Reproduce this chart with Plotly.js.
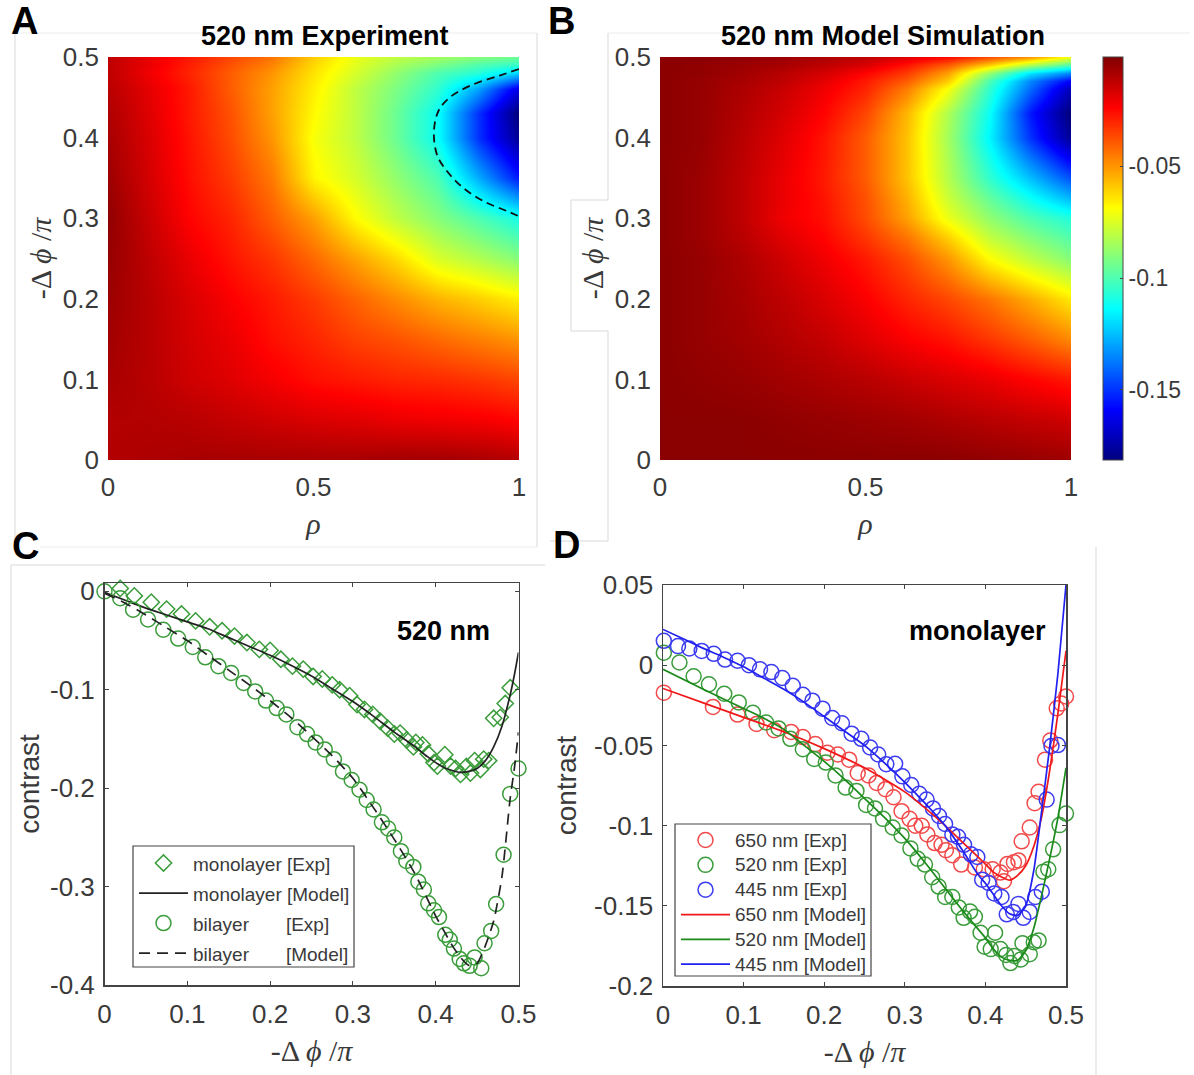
<!DOCTYPE html>
<html>
<head>
<meta charset="utf-8">
<script src="https://cdn.plot.ly/plotly-3.0.1.min.js"></script>
<style>html,body{margin:0;padding:0;background:#fff}#chart{width:1194px;height:1075px}</style>
</head>
<body>
<div id="chart"></div>
<script>
// ---------- Heatmap grids ----------
const rhoValues = [0, 0.1, 0.2, 0.3, 0.4, 0.5, 0.6, 0.7, 0.8, 0.9, 1];
const expPhiValues = [0, 0.05, 0.1, 0.15, 0.2, 0.25, 0.3, 0.35, 0.4, 0.43, 0.46, 0.48, 0.49, 0.5];
const simPhiValues = [0, 0.05, 0.1, 0.15, 0.2, 0.25, 0.275, 0.3, 0.325, 0.35, 0.4, 0.43, 0.46, 0.47, 0.48, 0.49, 0.5];
const experimentContrast = [
  [-.010,-.009,-.008,-.008,-.008,-.008,-.008,-.007,-.007,-.008,-.010],
  [-.010,-.010,-.011,-.013,-.015,-.017,-.018,-.020,-.021,-.022,-.024],
  [-.008,-.011,-.015,-.018,-.022,-.026,-.028,-.030,-.031,-.033,-.036],
  [-.007,-.011,-.016,-.020,-.026,-.030,-.035,-.038,-.042,-.046,-.050],
  [-.006,-.011,-.017,-.023,-.028,-.034,-.041,-.048,-.055,-.060,-.066],
  [-.005,-.012,-.020,-.027,-.033,-.042,-.052,-.062,-.075,-.082,-.090],
  [-.004,-.014,-.024,-.030,-.040,-.052,-.068,-.080,-.090,-.100,-.110],
  [-.006,-.016,-.026,-.034,-.045,-.067,-.076,-.088,-.100,-.128,-.155],
  [-.008,-.017,-.027,-.037,-.050,-.070,-.080,-.095,-.112,-.150,-.178],
  [-.009,-.018,-.028,-.038,-.052,-.068,-.080,-.095,-.112,-.150,-.183],
  [-.011,-.019,-.028,-.040,-.052,-.066,-.080,-.092,-.105,-.130,-.165],
  [-.012,-.021,-.030,-.040,-.050,-.064,-.076,-.088,-.100,-.107,-.122],
  [-.012,-.020,-.029,-.038,-.047,-.062,-.074,-.084,-.092,-.100,-.105],
  [-.012,-.020,-.028,-.036,-.044,-.060,-.072,-.080,-.085,-.090,-.095]
];
const simulationContrast = [
  [-.003,-.003,-.003,-.003,-.003,-.003,-.003,-.003,-.004,-.005,-.006],
  [-.003,-.003,-.003,-.004,-.005,-.006,-.007,-.009,-.011,-.013,-.015],
  [-.003,-.004,-.005,-.007,-.009,-.011,-.014,-.017,-.020,-.024,-.028],
  [-.003,-.005,-.007,-.010,-.013,-.018,-.023,-.027,-.033,-.040,-.048],
  [-.003,-.005,-.008,-.012,-.017,-.023,-.030,-.036,-.044,-.054,-.065],
  [-.003,-.005,-.009,-.015,-.021,-.028,-.037,-.050,-.068,-.080,-.090],
  [-.003,-.006,-.011,-.018,-.024,-.033,-.044,-.060,-.079,-.090,-.099],
  [-.003,-.006,-.012,-.021,-.026,-.037,-.052,-.072,-.088,-.100,-.108],
  [-.003,-.006,-.012,-.020,-.027,-.038,-.055,-.078,-.096,-.112,-.127],
  [-.003,-.006,-.012,-.020,-.028,-.040,-.058,-.082,-.105,-.125,-.145],
  [-.003,-.005,-.011,-.018,-.027,-.040,-.058,-.085,-.115,-.150,-.178],
  [-.003,-.005,-.010,-.016,-.024,-.036,-.056,-.083,-.112,-.155,-.183],
  [-.003,-.005,-.009,-.014,-.021,-.030,-.046,-.070,-.105,-.140,-.172],
  [-.003,-.005,-.008,-.012,-.019,-.028,-.040,-.060,-.100,-.135,-.160],
  [-.003,-.004,-.007,-.011,-.016,-.024,-.034,-.052,-.087,-.118,-.135],
  [-.003,-.004,-.006,-.008,-.012,-.017,-.027,-.040,-.060,-.083,-.100],
  [-.003,-.003,-.004,-.006,-.009,-.012,-.018,-.025,-.037,-.050,-.072]
];
const contourRho = [1, .953, .884, .832, .804, .793, .801, .827, .866, .918, .97, .997];
const contourPhi = [.485, .477, .465, .45, .433, .407, .378, .357, .337, .32, .309, .303];

// ---------- Panel C ----------
const monoExpX = [0,.019,.036,.0565,.075,.093,.11,.127,.142,.157,.172,.187,.2,.213,.227,.24,.252,.263,.275,.284,.296,.305,.314,.324,.333,.342,.35,.357,.365,.373,.376,.384,.391,.398,.402,.411,.418,.424,.43,.437,.442,.447,.454,.458,.464,.47,.478,.484,.49,.501];
const monoExpY = [.0095,.003,-.0046,-.011,-.018,-.023,-.03,-.036,-.04,-.0455,-.052,-.059,-.06,-.069,-.076,-.079,-.0865,-.089,-.095,-.1,-.106,-.115,-.12,-.125,-.132,-.139,-.145,-.144,-.151,-.158,-.1535,-.156,-.165,-.174,-.1775,-.166,-.1775,-.18,-.186,-.178,-.1846,-.172,-.181,-.1705,-.172,-.129,-.128,-.114,-.098,-.092];
const biExpX = [0,.019,.0345,.0526,.071,.089,.1066,.1217,.1376,.153,.168,.182,.195,.208,.2196,.233,.2446,.255,.266,.277,.288,.2985,.308,.3167,.325,.335,.3425,.35,.358,.3645,.373,.379,.3857,.391,.398,.404,.4116,.417,.422,.429,.434,.441,.447,.455,.459,.467,.473,.482,.49,.5];
const biExpY = [0,-.007,-.0187,-.0286,-.039,-.048,-.0565,-.067,-.076,-.083,-.093,-.1017,-.111,-.1186,-.125,-.138,-.145,-.1535,-.1606,-.1705,-.183,-.1917,-.2016,-.212,-.2217,-.2347,-.241,-.25,-.264,-.274,-.28,-.295,-.303,-.317,-.324,-.331,-.349,-.354,-.363,-.3735,-.378,-.3805,-.372,-.383,-.3576,-.345,-.3177,-.2676,-.2058,-.18];
const monoModelX = [0,.025,.05,.075,.1,.125,.15,.175,.2,.225,.25,.275,.3,.325,.35,.375,.39,.4,.41,.42,.43,.44,.45,.46,.47,.48,.49,.495,.5];
const monoModelY = [-.001,-.009,-.017,-.024,-.031,-.038,-.047,-.056,-.065,-.075,-.086,-.099,-.112,-.127,-.143,-.158,-.168,-.174,-.179,-.182,-.184,-.183,-.18,-.172,-.158,-.137,-.105,-.085,-.062];
const biModelX = [0,.025,.05,.075,.1,.125,.15,.175,.2,.225,.25,.275,.3,.325,.35,.375,.4,.41,.42,.43,.44,.45,.46,.47,.48,.49,.495,.5];
const biModelY = [-.002,-.012,-.024,-.037,-.05,-.065,-.08,-.095,-.111,-.128,-.147,-.167,-.19,-.22,-.252,-.287,-.33,-.345,-.36,-.372,-.38,-.378,-.36,-.335,-.29,-.21,-.18,-.143];

// ---------- Panel D ----------
const redExpX = [.001,.062,.0925,.116,.138,.159,.1735,.189,.204,.217,.231,.2416,.255,.265,.276,.286,.296,.306,.313,.321,.328,.337,.3456,.351,.359,.37,.387,.398,.409,.4186,.423,.4274,.4354,.441,.445,.455,.461,.466,.474,.4805,.4885,.494,.5];
const redExpY = [-.0171,-.026,-.0308,-.0366,-.0405,-.0416,-.0448,-.0492,-.0546,-.0557,-.0589,-.0672,-.0687,-.0734,-.0773,-.0823,-.091,-.0958,-.1001,-.1001,-.1055,-.1109,-.112,-.1153,-.1185,-.1243,-.1261,-.1272,-.1272,-.1293,-.1347,-.1239,-.1228,-.1217,-.1098,-.1012,-.086,-.0789,-.0589,-.047,-.0269,-.0238,-.0195];
const greenExpX = [.001,.0204,.038,.057,.076,.094,.1115,.128,.1434,.158,.1735,.1876,.202,.214,.2265,.24,.252,.263,.273,.285,.296,.307,.316,.325,.334,.342,.35,.359,.367,.373,.381,.387,.394,.399,.4066,.412,.4186,.4257,.431,.436,.444,.446,.455,.46,.466,.472,.478,.484,.492,.5];
const greenExpY = [.0078,.0017,-.0069,-.0119,-.0178,-.0232,-.0297,-.0357,-.0394,-.0459,-.0524,-.0585,-.0607,-.0687,-.0763,-.0784,-.0871,-.0893,-.0958,-.1012,-.1062,-.1142,-.1207,-.1243,-.1322,-.138,-.1445,-.1445,-.151,-.1575,-.1536,-.1568,-.1668,-.1755,-.177,-.1668,-.177,-.1807,-.1857,-.1813,-.1835,-.1733,-.1802,-.1727,-.1716,-.1287,-.1272,-.1148,-.0997,-.0925];
const blueExpX = [.001,.0186,.0327,.048,.063,.077,.0925,.1066,.1204,.1345,.148,.161,.1735,.1854,.198,.21,.222,.234,.246,.257,.267,.277,.288,.297,.308,.318,.327,.335,.3425,.35,.359,.366,.3735,.382,.39,.396,.404,.411,.42,.4265,.4345,.441,.447,.455,.462,.47,.476,.482,.49,.501];
const blueExpY = [.0152,.0119,.0104,.0089,.0071,.0035,.0028,0,-.0026,-.0043,-.008,-.0128,-.0184,-.0221,-.0271,-.0329,-.0362,-.0427,-.0459,-.0513,-.0557,-.0617,-.0615,-.0693,-.0747,-.0802,-.0838,-.0893,-.094,-.099,-.1055,-.107,-.112,-.1179,-.1196,-.1337,-.1358,-.1423,-.1445,-.1553,-.1538,-.1488,-.1575,-.1538,-.1445,-.1412,-.0838,-.0503,-.0498,-.0524];
const redModelX = [0,.05,.1,.15,.2,.25,.3,.325,.35,.375,.4,.41,.42,.43,.44,.45,.46,.47,.48,.49,.5];
const redModelY = [-.0145,-.0235,-.0325,-.0415,-.052,-.064,-.079,-.089,-.1,-.112,-.124,-.129,-.132,-.134,-.131,-.125,-.113,-.094,-.065,-.03,.009];
const greenModelX = [0,.05,.1,.125,.15,.175,.2,.225,.25,.275,.3,.325,.35,.375,.4,.41,.42,.43,.44,.45,.46,.47,.48,.49,.5];
const greenModelY = [-.0026,-.015,-.027,-.033,-.04,-.05,-.06,-.071,-.083,-.095,-.108,-.123,-.139,-.155,-.17,-.177,-.182,-.184,-.184,-.178,-.164,-.143,-.12,-.095,-.064];
const blueModelX = [0,.025,.05,.075,.1,.125,.15,.175,.2,.225,.25,.275,.3,.325,.35,.375,.39,.4,.41,.42,.43,.44,.45,.46,.47,.48,.49,.5];
const blueModelY = [.0223,.0165,.0105,.005,-.001,-.008,-.015,-.023,-.032,-.041,-.05,-.061,-.073,-.086,-.1,-.118,-.13,-.136,-.143,-.15,-.155,-.156,-.15,-.128,-.09,-.05,-.005,.05];

// ---------- Tick labels ----------
const heatXTicks = [0, 0.5, 1];
const heatXText = ['0', '0.5', '1'];
const heatYTicks = [0, 0.1, 0.2, 0.3, 0.4, 0.5];
const heatYText = ['0', '0.1', '0.2', '0.3', '0.4', '0.5'];
const lineXTicks = [0, 0.1, 0.2, 0.3, 0.4, 0.5];
const lineXText = ['0', '0.1', '0.2', '0.3', '0.4', '0.5'];
const cYTicks = [0, -0.1, -0.2, -0.3, -0.4];
const cYText = ['0', '-0.1', '-0.2', '-0.3', '-0.4'];
const dYTicks = [0.05, 0, -0.05, -0.1, -0.15, -0.2];
const dYText = ['0.05', '0', '-0.05', '-0.1', '-0.15', '-0.2'];
const cbTicks = [-0.05, -0.1, -0.15];
const cbText = ['-0.05', '-0.1', '-0.15'];

// ---------- Helpers (pixel layout -> paper) ----------
const W = 1194, H = 1075;
const px = x => x / W;
const py = y => 1 - y / H;
const TXT = '#3a3a3a';
const SANS = 'Liberation Sans, Arial, sans-serif';
const SERIF = 'Liberation Serif, Times New Roman, serif';
const GREEN = '#3a9c3a', RED = '#f24a4a', BLUE = '#3c3cf0';
const jet = [[0,'rgb(0,0,128)'],[.125,'rgb(0,0,255)'],[.375,'rgb(0,255,255)'],[.625,'rgb(255,255,0)'],[.875,'rgb(255,0,0)'],[1,'rgb(128,0,0)']];
const ZMIN = -0.1815, ZMAX = -0.001;
const phiLabel = '-Δ\u2009<i>ϕ</i> /<i>π</i>';
const nb = '\u00a0';
const big = s => '<span style="font-size:19px">' + s + '</span>';

function heat(z, phi, xa, ya, extra) {
  return Object.assign({type:'heatmap', x:rhoValues, y:phi, z:z, xaxis:xa, yaxis:ya,
    colorscale:jet, zmin:ZMIN, zmax:ZMAX, zsmooth:'best', showscale:false, hoverinfo:'skip'}, extra||{});
}
function pts(x, y, symbol, color, name, xa, ya, leg, size) {
  return {type:'scatter', mode:'markers', x:x, y:y, xaxis:xa, yaxis:ya, name:name, legend:leg,
    cliponaxis:false, marker:{symbol:symbol, size:size, color:color, line:{color:color, width:1.5}}};
}
function ln(x, y, color, dash, name, xa, ya, leg) {
  return {type:'scatter', mode:'lines', x:x, y:y, xaxis:xa, yaxis:ya, name:name, legend:leg,
    cliponaxis:false, line:{color:color, width:1.7, dash:dash, shape:'spline', smoothing:0.6}};
}
const traces = [
  heat(experimentContrast, expPhiValues, 'x', 'y'),
  {type:'scatter', mode:'lines', x:contourRho, y:contourPhi, xaxis:'x', yaxis:'y', showlegend:false, cliponaxis:false,
    line:{color:'#111', width:1.8, dash:'8px,5px', shape:'spline'}, hoverinfo:'skip'},
  heat(simulationContrast, simPhiValues, 'x2', 'y2', {showscale:true, colorbar:{
    x:px(1103), xanchor:'left', y:py(460), yanchor:'bottom', thicknessmode:'pixels', thickness:20,
    lenmode:'pixels', len:403, xpad:0, ypad:0, outlinecolor:'#444', outlinewidth:1,
    tickmode:'array', tickvals:cbTicks, ticktext:cbText, ticks:'inside', ticklen:3, tickcolor:'#444',
    tickfont:{family:SANS, size:23, color:TXT}, ticklabelposition:'outside'}}),
  pts(monoExpX, monoExpY, 'diamond-open', GREEN, big('monolayer [Exp]'), 'x3', 'y3', 'legend', 12.5),
  ln(monoModelX, monoModelY, '#222', 'solid', big('monolayer [Model]'), 'x3', 'y3', 'legend'),
  pts(biExpX, biExpY, 'circle-open', GREEN, big('bilayer'+nb.repeat(7)+'[Exp]'), 'x3', 'y3', 'legend', 15),
  ln(biModelX, biModelY, '#222', '11px,7px', big('bilayer'+nb.repeat(7)+'[Model]'), 'x3', 'y3', 'legend'),
  pts(redExpX, redExpY, 'circle-open', RED, big('650 nm [Exp]'), 'x4', 'y4', 'legend2', 15),
  pts(greenExpX, greenExpY, 'circle-open', GREEN, big('520 nm [Exp]'), 'x4', 'y4', 'legend2', 15),
  pts(blueExpX, blueExpY, 'circle-open', BLUE, big('445 nm [Exp]'), 'x4', 'y4', 'legend2', 15),
  ln(redModelX, redModelY, '#f01818', 'solid', big('650 nm [Model]'), 'x4', 'y4', 'legend2'),
  ln(greenModelX, greenModelY, '#1a8a1a', 'solid', big('520 nm [Model]'), 'x4', 'y4', 'legend2'),
  ln(blueModelX, blueModelY, '#2020f0', 'solid', big('445 nm [Model]'), 'x4', 'y4', 'legend2')
];

const tickFont = {family:SANS, size:26, color:TXT};
const titleFont = {family:SERIF, size:30, color:TXT};
function heatAxis(x0, x1, anchor, isX, titleText, standoff) {
  return {domain: isX ? [px(x0), px(x1)] : [py(x1), py(x0)], range: isX ? [0,1] : [0,0.5], anchor:anchor,
    tickmode:'array', tickvals:isX?heatXTicks:heatYTicks, ticktext:isX?heatXText:heatYText, ticks:'', tickfont:tickFont,
    showgrid:false, zeroline:false, showline:false, ticklabelstandoff:isX?9:8,
    title:{text:titleText, font:titleFont, standoff:standoff}};
}
function lineAxis(x0, x1, anchor, isX, range, vals, text, titleText, font, standoff, lblOff) {
  return {domain: isX ? [px(x0), px(x1)] : [py(x1), py(x0)], range:range, anchor:anchor,
    tickmode:'array', tickvals:vals, ticktext:text, ticks:'inside', ticklen:4, tickcolor:'#444', tickwidth:1,
    tickfont:tickFont, showgrid:false, zeroline:false, showline:true, linecolor:'#444', linewidth:1.5, mirror:'ticks',
    ticklabelstandoff:lblOff, title:{text:titleText, font:font, standoff:standoff}};
}
const contrastFont = {family:SANS, size:28, color:TXT};

const frame = '#d9d9d9', faint = '#ececec';
function seg(x0, y0, x1, y1, c) {
  return {type:'line', xref:'paper', yref:'paper', x0:px(x0), y0:py(y0), x1:px(x1), y1:py(y1), line:{color:c, width:1}, layer:'below'};
}
function box(x0, y0, x1, y1) {
  return {type:'rect', xref:'paper', yref:'paper', x0:px(x0), y0:py(y0), x1:px(x1), y1:py(y1),
    line:{color:'#444', width:1.2}, fillcolor:'#fff', layer:'above'};
}
const shapes = [
  seg(15,33,537,33,faint), seg(15,33,15,547,frame), seg(537,33,537,547,frame),
  seg(11,565,545,565,frame), seg(11,565,11,1075,frame), seg(40,547,537,547,faint),
  seg(608,33,1190,33,faint), seg(608,33,608,200,frame), seg(571,200,608,200,frame), seg(571,200,571,331,frame),
  seg(571,331,608,331,frame), seg(608,331,608,541,frame), seg(550,541,608,541,frame),
  seg(1096,547,1096,1075,frame),
  box(133,846,354,967), box(675,824,871,976)
];
function note(text, x, y, size, bold) {
  return {xref:'paper', yref:'paper', x:px(x), y:py(y), xanchor:'center', yanchor:'middle', showarrow:false,
    text:bold?'<b>'+text+'</b>':text, font:{family:SANS, size:size, color:'#000'}};
}
const annotations = [
  note('A', 24, 21, 38, true), note('B', 561, 21, 38, true), note('C', 25, 546, 38, true), note('D', 566, 545, 38, true),
  note('520 nm Experiment', 325, 36, 27, true), note('520 nm Model Simulation', 883, 36, 27, true),
  note('520 nm', 443, 631, 27, true), note('monolayer', 977, 631, 27, true)
];
const legendBase = {borderwidth:0, bgcolor:'rgba(0,0,0,0)', xanchor:'left', yanchor:'top', itemwidth:49,
  itemclick:false, itemdoubleclick:false, traceorder:'normal'};

const layout = {
  width:W, height:H, margin:{l:0, r:0, t:0, b:0}, paper_bgcolor:'#fff', plot_bgcolor:'#fff', showlegend:true,
  xaxis: heatAxis(108,519,'y',true,'<i>ρ</i>',11),
  yaxis: heatAxis(57,460,'x',false,phiLabel,2),
  xaxis2: heatAxis(660,1071,'y2',true,'<i>ρ</i>',11),
  yaxis2: heatAxis(57,460,'x2',false,phiLabel,2),
  xaxis3: lineAxis(104.5,518.5,'y3',true,[0,0.5],lineXTicks,lineXText,phiLabel,titleFont,12,5),
  yaxis3: lineAxis(583,985,'x3',false,[-0.4,0.0085],cYTicks,cYText,'contrast',contrastFont,2,3),
  xaxis4: lineAxis(663,1066,'y4',true,[0,0.5],lineXTicks,lineXText,phiLabel,titleFont,12,5),
  yaxis4: lineAxis(585,986,'x4',false,[-0.2,0.05],dYTicks,dYText,'contrast',contrastFont,9,3),
  legend: Object.assign({}, legendBase, {x:px(134), y:py(843), font:{family:SANS, size:20.8, color:TXT}}),
  legend2: Object.assign({}, legendBase, {x:px(676), y:py(822.6), font:{family:SANS, size:16.8, color:TXT}}),
  shapes:shapes, annotations:annotations
};
Plotly.newPlot('chart', traces, layout, {displayModeBar:false, staticPlot:true, responsive:false});
</script>
</body>
</html>
